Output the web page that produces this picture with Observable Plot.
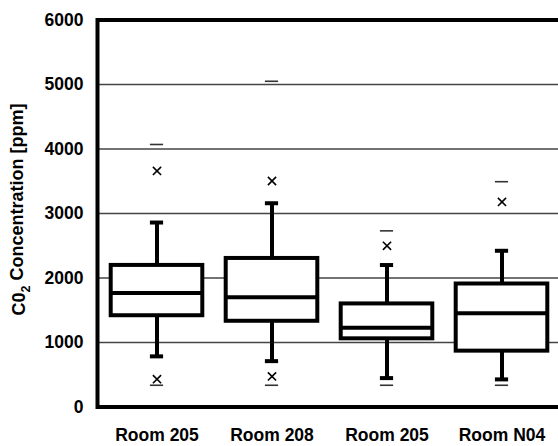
<!DOCTYPE html>
<html>
<head>
<meta charset="utf-8">
<script src="https://cdn.jsdelivr.net/npm/d3@7"></script>
<script src="https://cdn.jsdelivr.net/npm/@observablehq/plot@0.6"></script>
<style>
  html, body { margin: 0; padding: 0; background: white; overflow: hidden; }
</style>
</head>
<body>
<div id="chart"></div>
<script>
const roomLabels = ["Room 205", "Room 208", "Room 205", "Room N04"];
const q1Values = [1415, 1329, 1057, 866];
const medianValues = [1768, 1700, 1227, 1453];
const q3Values = [2195, 2303, 1598, 1907];
const whiskerLow = [785, 711, 448, 428];
const whiskerHigh = [2860, 3159, 2201, 2422];
const maxValues = [4070, 5050, 2731, 3493];
const minValues = [337, 337, 337, 337];
const outlierRoom = [0, 0, 1, 1, 2, 3];
const outlierValue = [3660, 431, 3504, 474, 2499, 3179];
const yTicks = [0, 1000, 2000, 3000, 4000, 5000, 6000];
const gridValues = [1000, 2000, 3000, 4000, 5000];
const yTitleParts = ["C0", "2", " Concentration [ppm]"];

const idx = roomLabels.map((_, i) => i);
const boxes = idx.map(i => ({
  i, q1: q1Values[i], med: medianValues[i], q3: q3Values[i],
  lo: whiskerLow[i], hi: whiskerHigh[i], mx: maxValues[i], mn: minValues[i]
}));
const outliers = outlierRoom.map((r, k) => ({i: r, v: outlierValue[k]}));

const font = "'Liberation Sans', Arial, Helvetica, sans-serif";
const boxInset = 11.7;
const capInset = 50.9;

const plot = Plot.plot({
  width: 558,
  height: 446,
  marginTop: 19.5,
  marginBottom: 39.5,
  marginLeft: 97,
  marginRight: -4,
  style: {fontFamily: font, background: "white"},
  x: {type: "band", domain: idx, range: [97, 560], padding: 0},
  y: {domain: [0, 6000], range: [406.5, 19.5]},
  marks: [
    Plot.ruleY(gridValues, {stroke: "#444", strokeWidth: 1.3}),
    Plot.frame({stroke: "black", strokeWidth: 4}),
    Plot.axisY({
      ticks: yTicks, tickSize: 0, tickPadding: 14, label: null,
      fontSize: 17.5, fontWeight: "bold", tickFormat: d => String(d)
    }),
    Plot.axisX({
      tickSize: 0, tickPadding: 22, label: null,
      fontSize: 17.5, fontWeight: "bold", tickFormat: i => roomLabels[i]
    }),
    Plot.text([yTitleParts.join("")], {
      text: d => d, frameAnchor: "left", textAnchor: "middle", rotate: -90, dx: -78, dy: -4,
      fontSize: 18, fontWeight: "bold", fill: "black", className: "ytitle"
    }),
    // whiskers
    Plot.ruleX(boxes, {x: "i", y1: "q3", y2: "hi", stroke: "black", strokeWidth: 4}),
    Plot.ruleX(boxes, {x: "i", y1: "lo", y2: "q1", stroke: "black", strokeWidth: 4}),
    // caps
    Plot.tickY(boxes, {x: "i", y: "hi", stroke: "black", strokeWidth: 4, insetLeft: capInset, insetRight: capInset}),
    Plot.tickY(boxes, {x: "i", y: "lo", stroke: "black", strokeWidth: 4, insetLeft: capInset, insetRight: capInset}),
    // boxes
    Plot.barY(boxes, {x: "i", y1: "q1", y2: "q3", fill: "white", stroke: "black", strokeWidth: 4,
      insetLeft: boxInset, insetRight: boxInset}),
    Plot.tickY(boxes, {x: "i", y: "med", stroke: "black", strokeWidth: 4, insetLeft: boxInset, insetRight: boxInset}),
    // max / min dashes
    Plot.tickY(boxes, {x: "i", y: "mx", stroke: "#333", strokeWidth: 1.6, insetLeft: capInset, insetRight: capInset}),
    Plot.tickY(boxes, {x: "i", y: "mn", stroke: "#333", strokeWidth: 1.6, insetLeft: capInset, insetRight: capInset}),
    // outliers
    Plot.dot(outliers, {x: "i", y: "v", symbol: "times", r: 3.8, stroke: "black", strokeWidth: 1.6})
  ]
});

// subscript for the "2" in the y title
d3.select(plot).selectAll("g.ytitle text").each(function() {
  const t = d3.select(this);
  t.text(null);
  t.append("tspan").text(yTitleParts[0]);
  t.append("tspan").attr("font-size", 12.5).attr("dy", "0.35em").text(yTitleParts[1]);
  t.append("tspan").attr("dy", "-0.35em").text(yTitleParts[2]);
});

document.getElementById("chart").appendChild(plot);
</script>
</body>
</html>
